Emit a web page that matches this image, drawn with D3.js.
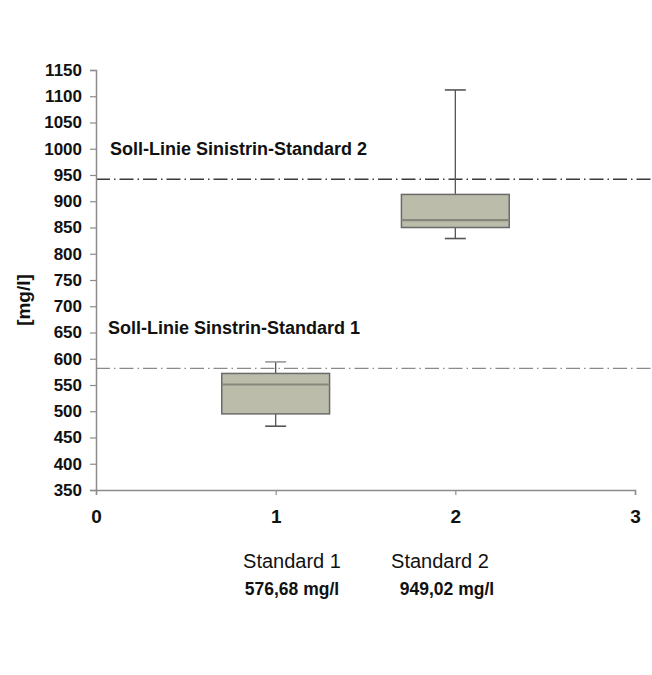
<!DOCTYPE html>
<html>
<head>
<meta charset="utf-8">
<script src="https://cdn.jsdelivr.net/npm/d3@7"></script>
<style>
  body { margin: 0; background: #fff; }
  text { font-family: "Liberation Sans", Arial, sans-serif; }
</style>
</head>
<body>
<div id="chart"></div>
<script>
const width = 652, height = 675;

// data
const positions = [1, 2];
const categories = ["Standard 1", "Standard 2"];
const targetTexts = ["576,68 mg/l", "949,02 mg/l"];
const whiskerLow = [471.5, 829];
const q1 = [495, 850];
const median = [551, 864];
const q3 = [572, 913];
const whiskerHigh = [594, 1112];
const targets = [581.5, 942];
const targetLabels = ["Soll-Linie Sinstrin-Standard 1", "Soll-Linie Sinistrin-Standard 2"];
const targetLabelY = [660, 1000];
const yTicks = d3.range(350, 1151, 50);
const xTicks = [0, 1, 2, 3];

const x = d3.scaleLinear().domain([0, 3]).range([96, 635]);
const y = d3.scaleLinear().domain([350, 1150]).range([490, 70]);

const svg = d3.select("#chart").append("svg")
    .attr("width", width)
    .attr("height", height);

// dash-dot target lines
const tColors = ["#8a8a8a", "#3a3a3a"];
svg.selectAll(".target")
  .data(targets)
  .enter().append("line")
    .attr("x1", x(0)).attr("x2", width)
    .attr("y1", d => y(d)).attr("y2", d => y(d))
    .style("stroke", (d, i) => tColors[i])
    .style("stroke-width", (d, i) => i ? 1.6 : 1.2)
    .style("stroke-dasharray", "14,4,1.5,4");

svg.selectAll(".tlabel")
  .data(targetLabels)
  .enter().append("text")
    .attr("x", (d, i) => i ? 110 : 108)
    .attr("y", (d, i) => y(targetLabelY[i]))
    .attr("dy", "0.35em")
    .style("font-size", "18px")
    .style("font-weight", "bold")
    .style("fill", "#111")
    .text(d => d);

// boxes
const boxW = x(0.6) - x(0);
const capW = 21;
const g = svg.selectAll(".box")
  .data(positions)
  .enter().append("g");

g.append("line") // whisker
    .attr("x1", d => x(d)).attr("x2", d => x(d))
    .attr("y1", (d, i) => y(whiskerLow[i]))
    .attr("y2", (d, i) => y(whiskerHigh[i]))
    .style("stroke", "#555").style("stroke-width", 1.3);
g.append("line")
    .attr("x1", d => x(d) - capW / 2).attr("x2", d => x(d) + capW / 2)
    .attr("y1", (d, i) => y(whiskerHigh[i])).attr("y2", (d, i) => y(whiskerHigh[i]))
    .style("stroke", (d, i) => i ? "#555" : "#999").style("stroke-width", 1.6);
g.append("line")
    .attr("x1", d => x(d) - capW / 2).attr("x2", d => x(d) + capW / 2)
    .attr("y1", (d, i) => y(whiskerLow[i])).attr("y2", (d, i) => y(whiskerLow[i]))
    .style("stroke", "#555").style("stroke-width", 1.6);
g.append("rect")
    .attr("x", d => x(d) - boxW / 2)
    .attr("width", boxW)
    .attr("y", (d, i) => y(q3[i]))
    .attr("height", (d, i) => y(q1[i]) - y(q3[i]))
    .style("fill", "#bbbcaa")
    .style("stroke", "#6a6a6a")
    .style("stroke-width", 1.5);
g.append("line") // median
    .attr("x1", d => x(d) - boxW / 2).attr("x2", d => x(d) + boxW / 2)
    .attr("y1", (d, i) => y(median[i])).attr("y2", (d, i) => y(median[i]))
    .style("stroke", "#86877a").style("stroke-width", 2.2);

// axes
const yAxis = svg.append("g")
    .attr("transform", "translate(" + x(0) + ",0)")
    .call(d3.axisLeft(y).tickValues(yTicks).tickSize(6).tickPadding(8).tickFormat(d3.format("d")));
const xAxis = svg.append("g")
    .attr("transform", "translate(0," + y(350) + ")")
    .call(d3.axisBottom(x).tickValues(xTicks).tickSize(5).tickPadding(15).tickFormat(d3.format("d")));

[yAxis, xAxis].forEach(a => {
  a.select(".domain").style("stroke", "#8c8c8c").style("stroke-width", 1.5);
  a.selectAll(".tick line").style("stroke", "#8c8c8c").style("stroke-width", 1.2);
  a.selectAll("text")
    .style("font-family", "'Liberation Sans', Arial, sans-serif")
    .style("font-weight", "bold")
    .style("fill", "#111");
});
yAxis.selectAll("text").style("font-size", "17px");
xAxis.selectAll("text").style("font-size", "19px");

svg.append("text")
    .attr("transform", "translate(30,300) rotate(-90)")
    .attr("text-anchor", "middle")
    .style("font-size", "19px")
    .style("font-weight", "bold")
    .style("fill", "#111")
    .text("[mg/l]");

// category labels under the chart
const catX = [292, 440];
const subX = [292, 447];
svg.selectAll(".cat")
  .data(categories)
  .enter().append("text")
    .attr("x", (d, i) => catX[i])
    .attr("y", 568)
    .attr("text-anchor", "middle")
    .style("font-size", "20px")
    .style("fill", "#111")
    .text(d => d);
svg.selectAll(".sub")
  .data(targetTexts)
  .enter().append("text")
    .attr("x", (d, i) => subX[i])
    .attr("y", 595)
    .attr("text-anchor", "middle")
    .style("font-size", "17.5px")
    .style("font-weight", "bold")
    .style("fill", "#111")
    .text(d => d);
</script>
</body>
</html>
